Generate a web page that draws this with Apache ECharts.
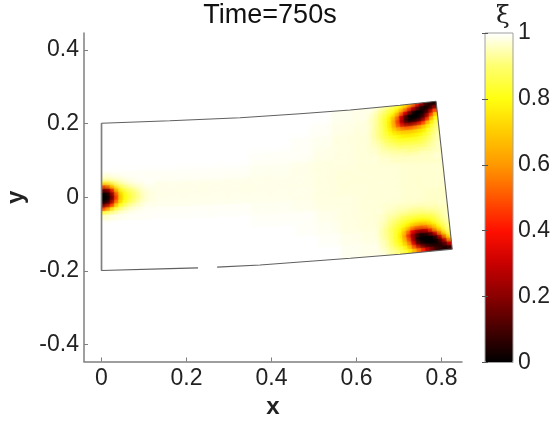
<!DOCTYPE html>
<html><head><meta charset="utf-8">
<style>html,body{margin:0;padding:0;background:#fff}#c{width:560px;height:423px;filter:blur(0.4px)}</style>
<script src="https://cdn.jsdelivr.net/npm/echarts@6/dist/echarts.min.js"></script>
</head><body><div id="c"></div>
<script>
// Plate outline (data coordinates)
const topEdgeX = [0, 0.161, 0.326, 0.467, 0.585, 0.702, 0.787];
const topEdgeY = [0.201, 0.208, 0.216, 0.227, 0.237, 0.250, 0.261];
const bottomEdgeX = [0, 0.161, 0.227, 0.272, 0.373, 0.467, 0.585, 0.702, 0.825];
const bottomEdgeY = [-0.199, -0.194, -0.192, -0.190, -0.184, -0.176, -0.166, -0.155, -0.141];
const bottomGapFrom = 0.227, bottomGapTo = 0.272;
const xTicks = [0, 0.2, 0.4, 0.6, 0.8];
const yTicks = [-0.4, -0.2, 0, 0.2, 0.4];

// xi in percent, estimated by eye. Rows run top to bottom, columns left to right of the plate.
const baseField = [
 [100,100,100,100,100,100,100,100,100,100,100,99,98.5,98,97.5,97],
 [100,100,100,100,100,100,100,100,100,100,99.5,98.5,98,97.5,97,96.5],
 [100,100,100,100,100,100,100,100,100,99.5,99,98,97.5,97,97,96.5],
 [100,100,100,100,100,100,100,99.5,99.5,99.5,98.5,98,97.5,97,97,96.5],
 [99.5,99.5,99.5,99.5,99.5,99.5,99.5,99,99,98.5,98,98,97.5,97.5,97,96.5],
 [98.5,98.5,98.5,98.5,98.5,98.5,98.5,98.5,98.5,98.5,98,97.5,97.5,97.5,97,97],
 [98.5,98.5,98.5,98.5,98.5,98.5,98.5,98.5,98.5,98.5,98,97.5,97.5,97.5,97,97],
 [99.5,99.5,99.5,99.5,99.5,99.5,99.5,99,99,98.5,98,98,97.5,97.5,97,96.5],
 [100,100,100,100,100,100,100,99.5,99.5,99.5,98.5,98,97.5,97,97,96.5],
 [100,100,100,100,100,100,100,100,100,99.5,99,98,97.5,97,96.5,96.5],
 [100,100,100,100,100,100,100,100,100,100,99.5,98.5,98,97.5,97,96.5],
 [100,100,100,100,100,100,100,100,100,100,100,99,98.5,98,97.5,97]
];
const topSpot = [
 [99,98,97,95,93,91,88,84,78,70,60,46,30,14,6,3],
 [98,96,94,92,89,86,81,74,64,50,34,20,8,3,5,16],
 [97,95,92,89,85,80,72,58,40,22,8,2,2,6,20,45],
 [96,94,91,86,80,72,58,36,14,3,0,1,5,18,42,68],
 [96,94,90,85,79,67,50,28,8,1,1,4,14,36,62,80],
 [96,93,90,85,78,66,50,34,22,18,22,30,42,60,76,87],
 [95,93,90,85,79,70,62,54,50,50,54,58,66,75,84,90],
 [95,93,90,86,81,76,72,69,68,68,70,73,76,82,88,92],
 [95,93,90,87,84,81,79,77,76,76,77,79,82,86,90,94],
 [96,94,92,89,87,85,83,82,82,82,82,84,86,89,92,95],
 [96,95,93,91,90,88,87,86,86,86,86,87,89,91,93,95],
 [97,96,94,93,92,91,90,90,90,90,90,90,91,93,94,96],
 [97,96,95,95,94,93,93,93,92,92,92,93,93,94,95,96],
 [98,97,96,96,95,95,95,94,94,94,94,95,95,95,96,96],
 [98,97,97,97,96,96,96,96,96,96,96,96,96,96,97,97]
];
const bottomSpot = [
 [98,97,97,97,96,96,96,96,96,96,96,96,96,96,97,97],
 [98,97,96,96,95,95,95,94,94,94,94,95,95,95,96,96],
 [97,96,95,95,94,93,93,92,92,92,92,93,93,94,95,96],
 [97,96,94,93,92,90,89,88,88,87,88,89,90,92,94,96],
 [96,95,93,91,89,87,85,83,82,81,82,84,86,90,93,95],
 [96,94,92,89,86,83,80,76,74,73,74,77,82,87,91,94],
 [95,93,90,87,83,78,72,63,58,56,58,65,73,81,88,93],
 [95,93,90,86,80,72,58,40,30,28,32,44,60,74,85,92],
 [95,93,90,85,79,66,46,26,12,6,8,16,34,56,76,88],
 [96,94,90,85,80,68,50,26,6,1,0,1,8,28,55,78],
 [96,94,91,86,81,72,58,34,10,2,0,0,2,10,30,60],
 [97,95,92,89,85,79,68,48,28,12,5,3,3,6,14,35],
 [98,96,94,92,89,85,78,68,56,44,30,18,10,6,4,8]
];
const leftSpot = [
 [98,98,98.5,99,99,99.5,99.5,99.5,99.5,99.5,99.5,99.5],
 [96,96,97,97.5,98,98.5,99,99,99.5,99.5,99.5,99.5],
 [84,86,90,93,95,97,98,98.5,99,99,99.5,99.5],
 [50,58,74,85,90,93,95,96.5,97.5,98,99,99],
 [18,22,42,68,82,88,91,93,95,97,98,98.5],
 [2,4,22,52,74,82,87,90,93,95.5,97,98],
 [0,1,14,44,70,80,85,89,92,95,97,98],
 [1,3,20,50,72,81,86,90,93,95.5,97,98],
 [14,20,40,66,80,87,91,93,95,97,98,98.5],
 [44,54,72,84,89,93,95,96.5,97.5,98,99,99],
 [82,85,90,93,95,97,98,98.5,99,99,99.5,99.5],
 [97,97,98,98.5,99,99,99.5,99.5,99.5,99.5,99.5,99.5]
];
// colour scale, evenly spaced from 0 to 1
const hotColors = ['#000000','#450000','#8a0000','#c80000','#ff1000','#ff5500','#ff9900','#ffcc00','#ffff10','#ffff70','#ffffff'];

// patch placement on the plate
const patches = [
 {rows: baseField, u0: 0, v0: 0, du: 0.0625, dv: 1/12},
 {rows: leftSpot, u0: 0, v0: 0.35, du: 0.0125, dv: 0.025},
 {rows: topSpot, u0: 0.8, v0: 0, du: 0.0125, dv: 0.025},
 {rows: bottomSpot, u0: 0.8, v0: 0.675, du: 0.0125, dv: 0.025}
];
const cells = [];
patches.forEach(p => p.rows.forEach((row, r) => row.forEach((val, c) => {
  cells.push([p.u0 + c * p.du, p.v0 + r * p.dv, p.u0 + (c + 1) * p.du, p.v0 + (r + 1) * p.dv, val / 100, p.du]);
})));

function arcPoint(xs, ys, u) {
  const xTarget = xs[0] + u * (xs[xs.length - 1] - xs[0]);
  for (let i = 1; i < xs.length; i++) {
    if (xTarget <= xs[i] || i === xs.length - 1) {
      const t = (xTarget - xs[i - 1]) / (xs[i] - xs[i - 1]);
      return [xTarget, ys[i - 1] + t * (ys[i] - ys[i - 1])];
    }
  }
}
function plate(u, v) {
  const a = arcPoint(topEdgeX, topEdgeY, u), b = arcPoint(bottomEdgeX, bottomEdgeY, u);
  return [a[0] + v * (b[0] - a[0]), a[1] + v * (b[1] - a[1])];
}
function renderCell(params, api) {
  const u0 = api.value(0), v0 = api.value(1), u1 = api.value(2), v1 = api.value(3);
  const pts = [[u0, v0], [u1, v0], [u1, v1], [u0, v1]].map(q => api.coord(plate(q[0], q[1])));
  const color = api.visual('color');
  const fine = api.value(5) < 0.05;
  const outline = topEdgeX.map((x, i) => api.coord([x, topEdgeY[i]]))
    .concat(bottomEdgeX.map((x, i) => api.coord([x, bottomEdgeY[i]])).reverse());
  return {type: 'polygon', shape: {points: pts},
    clipPath: {type: 'polygon', shape: {points: outline}},
    style: {fill: color, stroke: color, lineWidth: 0.6,
      shadowBlur: fine ? 5 : 12, shadowColor: color}};
}
const lowerLeftPart = [], lowerRightPart = [];
bottomEdgeX.forEach((x, i) => {
  if (x <= bottomGapFrom) lowerLeftPart.push([x, bottomEdgeY[i]]);
  if (x >= bottomGapTo) lowerRightPart.push([x, bottomEdgeY[i]]);
});
const upperPart = topEdgeX.map((x, i) => [x, topEdgeY[i]]);
const outlineA = lowerLeftPart.slice().reverse().concat(upperPart);
const outlineB = lowerRightPart.concat([upperPart[upperPart.length - 1]]);

const fontFam = '"Liberation Sans", Arial, sans-serif';
const lineGray = '#7f7f7f';
const fmt = v => String(v);
const chart = echarts.init(document.getElementById('c'), null, {renderer: 'canvas'});
chart.setOption({
  animation: false,
  backgroundColor: '#fff',
  title: [
    {text: 'Time=750s', left: 265, top: -3, textAlign: 'center',
      textStyle: {fontFamily: fontFam, fontSize: 27, fontWeight: 'normal', color: '#111'}},
    {text: 'ξ', left: 498, top: -1, textAlign: 'center',
      textStyle: {fontFamily: '"DejaVu Serif", serif', fontSize: 25, fontWeight: 'normal', color: '#222'}}
  ],
  grid: [
    {left: 84, top: 33, width: 378, height: 328.5, outerBoundsMode: 'none'},
    {left: 485, top: 33, width: 28, height: 329.5, z: 10, show: true, borderColor: '#a0a0a0', borderWidth: 1, backgroundColor: 'transparent', outerBoundsMode: 'none'}
  ],
  xAxis: [
    {type: 'value', gridIndex: 0, min: -0.0412, max: 0.848, position: 'bottom',
      name: 'x', nameLocation: 'middle', nameGap: 31,
      nameTextStyle: {fontFamily: fontFam, fontSize: 24, fontWeight: 'bold', color: '#222'},
      axisLine: {show: true, onZero: false, lineStyle: {color: lineGray, width: 1.5}},
      axisTick: {show: true, inside: true, length: 4, lineStyle: {color: lineGray}, customValues: xTicks},
      axisLabel: {fontFamily: fontFam, fontSize: 23, color: '#222', margin: 6, customValues: xTicks, formatter: fmt},
      splitLine: {show: false}},
    {type: 'value', gridIndex: 1, min: 0, max: 1, show: false}
  ],
  yAxis: [
    {type: 'value', gridIndex: 0, min: -0.4465, max: 0.4465, position: 'left',
      name: 'y', nameLocation: 'middle', nameGap: 52, nameRotate: 90,
      nameTextStyle: {fontFamily: fontFam, fontSize: 24, fontWeight: 'bold', color: '#222'},
      axisLine: {show: true, onZero: false, lineStyle: {color: lineGray, width: 1.5}},
      axisTick: {show: true, inside: true, length: 4, lineStyle: {color: lineGray}, customValues: yTicks},
      axisLabel: {fontFamily: fontFam, fontSize: 23, color: '#222', margin: 5, customValues: yTicks, formatter: fmt},
      splitLine: {show: false}},
    {type: 'value', gridIndex: 1, min: 0, max: 1, interval: 0.2, position: 'right', z: 10,
      axisLine: {show: false},
      axisTick: {show: true, inside: true, length: 3, lineStyle: {color: '#555'}},
      axisLabel: {fontFamily: fontFam, fontSize: 23, color: '#222', margin: 5, formatter: fmt},
      splitLine: {show: false}},
    {type: 'value', gridIndex: 1, min: 0, max: 1, interval: 0.2, position: 'left', z: 10,
      axisLine: {show: false},
      axisTick: {show: true, inside: true, length: 3, lineStyle: {color: '#555'}},
      axisLabel: {show: false}, splitLine: {show: false}}
  ],
  visualMap: {
    type: 'continuous', min: 0, max: 1, dimension: 4, seriesIndex: 0,
    left: 485, top: 33, itemWidth: 28, itemHeight: 329.5, orient: 'vertical',
    calculable: false, realtime: false, showLabel: false, text: null, padding: 0,
    inRange: {color: hotColors}, outOfRange: {color: hotColors}
  },
  series: [
    {type: 'custom', xAxisIndex: 0, yAxisIndex: 0, renderItem: renderCell, data: cells,
      clip: true, silent: true, dimensions: ['u0','v0','u1','v1','xi','du'],
      encode: {x: 0, y: 1}, z: 1},
    {type: 'line', xAxisIndex: 0, yAxisIndex: 0, data: outlineA, showSymbol: false, symbol: 'none',
      lineStyle: {color: '#606060', width: 1.1}, z: 5, silent: true},
    {type: 'line', xAxisIndex: 0, yAxisIndex: 0, data: outlineB, showSymbol: false, symbol: 'none',
      lineStyle: {color: '#606060', width: 1.1}, z: 5, silent: true},
    {type: 'line', xAxisIndex: 0, yAxisIndex: 0, showSymbol: false, symbol: 'none',
      data: [[topEdgeX[0], topEdgeY[0]], [bottomEdgeX[0], bottomEdgeY[0]]],
      lineStyle: {color: '#808080', width: 1.6}, z: 5, silent: true}
  ]
});
</script></body></html>
